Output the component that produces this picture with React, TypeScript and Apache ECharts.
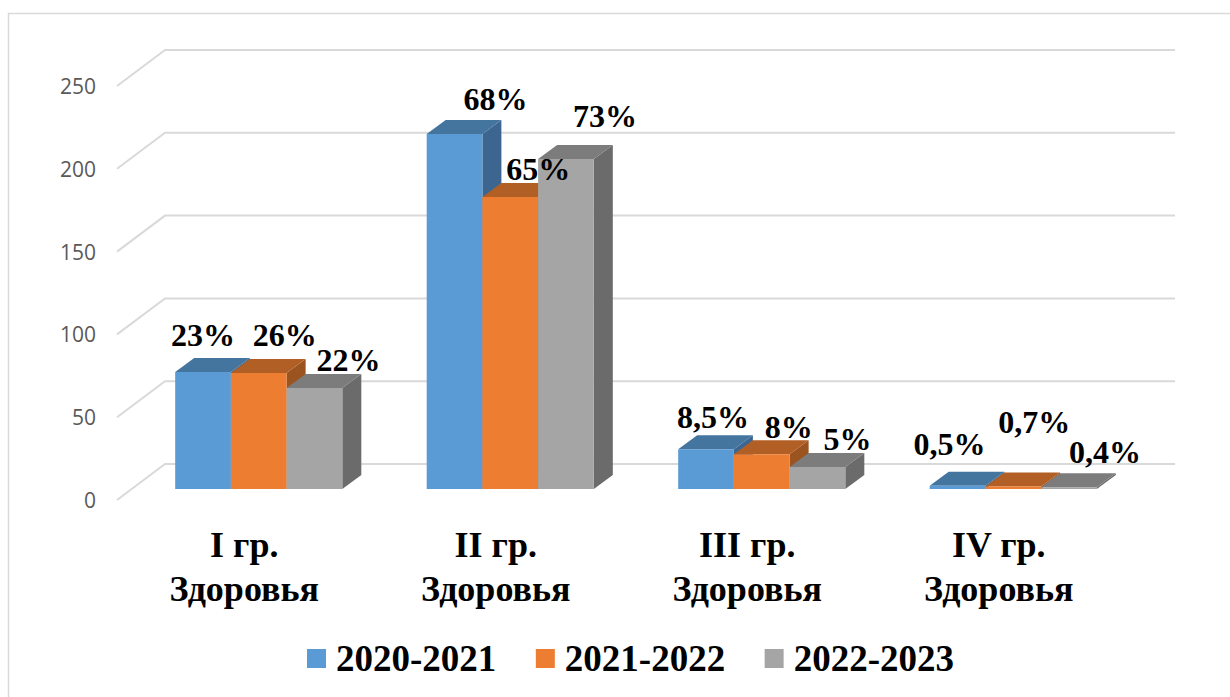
import React, { useEffect, useRef } from "react";
import * as echarts from "echarts";

const categories = ["I гр.\nЗдоровья", "II гр.\nЗдоровья", "III гр.\nЗдоровья", "IV гр.\nЗдоровья"];
const seriesNames = ["2020-2021", "2021-2022", "2022-2023"];
const values2021 = [70.7, 214.4, 24, 2];
const values2122 = [70, 176.3, 21, 1.5];
const values2223 = [61, 199.3, 13.3, 1];
const labels2021 = ["23%", "68%", "8,5%", "0,5%"];
const labels2122 = ["26%", "65%", "8%", "0,7%"];
const labels2223 = ["22%", "73%", "5%", "0,4%"];
const yTicks = [0, 50, 100, 150, 200, 250];

const allValues = [values2021, values2122, values2223];
const allLabels = [labels2021, labels2122, labels2223];
const labelShiftX = [[0, 41, 7, -8], [26, 28, 27, 21], [34, 39, 30, 36]];
const labelShiftY = [[-37, -35, -32, -42], [-38, -28, -27, -65], [-28, -43, -28, -35]];
const faces = [
  ["#5B9BD5", "#44759F", "#3C668F"],
  ["#ED7D31", "#B25F25", "#9B5320"],
  ["#A5A5A5", "#7C7C7C", "#6B6B6B"],
];

const SERIF = "'Liberation Serif', 'Times New Roman', serif";
const OFF_X = 16, OFF_Y = -11, DEPTH_X = 19, DEPTH_Y = 14, WALL_X = 48, WALL_Y = 36, WALL_EXTRA = 4, BAR_RATIO = 0.2215;

const poly = (points: number[][], fill: string) => ({
  type: "polygon",
  shape: { points },
  style: { fill, stroke: null },
});

const barSeries = (s: number) => ({
  type: "custom",
  name: seriesNames[s],
  coordinateSystem: "cartesian2d",
  itemStyle: { color: faces[s][0] },
  silent: true,
  z: 3 + s,
  clip: false,
  data: allValues[s].map((v, i) => [i, v]),
  renderItem: (_p: any, api: any) => {
    const top = api.coord([api.value(0), api.value(1)]);
    const base = api.coord([api.value(0), 0]);
    const w = api.size([1, 0])[0] * BAR_RATIO;
    const x0 = top[0] + OFF_X + (s - 1.5) * w;
    const x1 = x0 + w;
    const yt = top[1] + OFF_Y;
    const yb = base[1] + OFF_Y;
    return {
      type: "group",
      children: [
        poly([[x1, yt], [x1 + DEPTH_X, yt - DEPTH_Y], [x1 + DEPTH_X, yb - DEPTH_Y], [x1, yb]], faces[s][2]),
        poly([[x0, yt], [x0 + DEPTH_X, yt - DEPTH_Y], [x1 + DEPTH_X, yt - DEPTH_Y], [x1, yt]], faces[s][1]),
        poly([[x0, yt], [x1, yt], [x1, yb], [x0, yb]], faces[s][0]),
      ],
    };
  },
});

const labelSeries = (s: number) => ({
  type: "custom",
  coordinateSystem: "cartesian2d",
  silent: true,
  z: 10,
  clip: false,
  data: allValues[s].map((v, i) => [i, v]),
  renderItem: (p: any, api: any) => {
    const top = api.coord([api.value(0), api.value(1)]);
    const w = api.size([1, 0])[0] * BAR_RATIO;
    const i = p.dataIndex;
    return {
      type: "text",
      x: top[0] + OFF_X + (s - 1) * w + labelShiftX[s][i],
      y: top[1] + OFF_Y + labelShiftY[s][i],
      style: {
        text: allLabels[s][i],
        font: `bold 32px ${SERIF}`,
        fill: "#000000",
        align: "center",
        verticalAlign: "middle",
      },
    };
  },
});

const gridSeries = {
  type: "custom",
  coordinateSystem: "cartesian2d",
  silent: true,
  z: 1,
  clip: false,
  data: yTicks.map((t) => [0, t]),
  renderItem: (p: any, api: any) => {
    const y = api.coord([0, api.value(1)])[1];
    const left = p.coordSys.x;
    const right = left + p.coordSys.width;
    return {
      type: "polyline",
      shape: { points: [[left, y], [left + WALL_X, y - WALL_Y], [right + WALL_X + WALL_EXTRA, y - WALL_Y]] },
      style: { stroke: "#D9D9D9", lineWidth: 2, fill: null },
    };
  },
};

export default function App() {
  const ref = useRef<HTMLDivElement>(null);
  useEffect(() => {
    const chart = echarts.init(ref.current!, undefined, { renderer: "svg" });
    chart.setOption({
      animation: false,
      backgroundColor: "#FFFFFF",
      grid: { left: 117, top: 86, width: 1006, height: 414 },
      graphic: [
        {
          type: "polyline",
          silent: true,
          z: 0,
          shape: { points: [[8.5, 697], [8.5, 13.5], [1230, 13.5]] },
          style: { fill: null, stroke: "#D9D9D9", lineWidth: 1.5 },
        },
      ],
      legend: {
        data: seriesNames,
        left: 302,
        top: 635,
        icon: "rect",
        itemWidth: 19,
        itemHeight: 19,
        itemGap: 39.5,
        textStyle: { fontFamily: SERIF, fontWeight: "bold", fontSize: 37, color: "#000000", padding: [0, 0, 3, 5] },
      },
      xAxis: {
        type: "category",
        data: categories,
        axisLine: { show: false },
        axisTick: { show: false },
        axisLabel: {
          margin: 23,
          interval: 0,
          fontFamily: SERIF,
          fontWeight: "bold",
          fontSize: 36,
          lineHeight: 44,
          color: "#000000",
          padding: [0, 0, 0, 3],
        },
      },
      yAxis: {
        type: "value",
        min: 0,
        max: 250,
        interval: 50,
        axisLine: { show: false },
        axisTick: { show: false },
        splitLine: { show: false },
        axisLabel: { margin: 21, fontFamily: "'Open Sans', sans-serif", fontSize: 21, color: "#595959" },
      },
      series: [gridSeries, barSeries(0), barSeries(1), barSeries(2), labelSeries(0), labelSeries(1), labelSeries(2)],
    });
    return () => chart.dispose();
  }, []);
  return <div ref={ref} style={{ position: "absolute", left: 0, top: 0, width: 1230, height: 697 }} />;
}
